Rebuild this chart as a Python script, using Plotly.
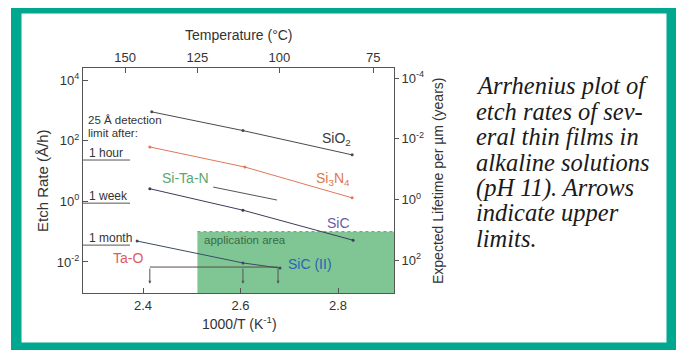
import plotly.graph_objects as go
import numpy as np

# ---------------- data ----------------
sio2_x = [2.418, 2.605, 2.829]
sio2_y = [890, 215, 34]
si3n4_x = [2.414, 2.609, 2.829]
si3n4_y = [62, 13.5, 1.3]
sitan_x = [2.544, 2.675]
sitan_y = [2.95, 1.1]
sic_x = [2.414, 2.605, 2.831]
sic_y = [2.6, 0.51, 0.052]
sic2_x = [2.388, 2.605, 2.681]
sic2_y = [0.049, 0.0093, 0.0063]
tao_x = [2.414, 2.605, 2.677]
tao_y = [0.0068, 0.0068, 0.0068]

detect_labels = ["1 hour", "1 week", "1 month"]
detect_rates = [23, 0.87, 0.036]

temp_ticks_c = [150, 125, 100, 75]
x_ticks = [2.4, 2.6, 2.8]
y_ticks = [1e-2, 1, 1e2, 1e4]
y_ticktext = ["10<sup>-2</sup>", "10<sup>0</sup>", "10<sup>2</sup>", "10<sup>4</sup>"]
life_ticks = [1e-4, 1e-2, 1, 1e2]
life_ticktext = ["10<sup>-4</sup>", "10<sup>-2</sup>", "10<sup>0</sup>", "10<sup>2</sup>"]

app_T_max = 125      # deg C
app_rate_max = 0.1   # A/h

caption_lines = ["Arrhenius plot of", "etch rates of sev-", "eral thin films in",
                 "alkaline solutions", "(pH 11). Arrows", "indicate upper", "limits."]

# ---------------- geometry helpers ----------------
OFF = 8  # page body margin
W, H = 684, 350
ML, MT = 83 - OFF, 68 - OFF
PW, PH = 311, 225
MR, MB = W - ML - PW, H - MT - PH

def X(px):      # reference pixel -> data x
    return 2.4 + (px - 143) / 487.5

def YL(py):     # reference pixel -> log10 data y
    return 4 - (py - 80) / 30.33

def PX(px):     # reference pixel -> paper x
    return (px - OFF - ML) / PW

def PY(py):     # reference pixel -> paper y
    return (MT + PH - (py - OFF)) / PH

xr = [X(83), X(394)]
yr = [YL(293), YL(68)]
c_life = np.log10(1e4 / 8760.0)
y2r = [c_life - yr[0], c_life - yr[1]]

FONT = "Liberation Sans, Arial, sans-serif"
GRAY = "#555555"

fig = go.Figure()

# application area (filled region)
x_app0 = 1000.0 / (app_T_max + 273.15)
fig.add_trace(go.Scatter(
    x=[x_app0, xr[1], xr[1], x_app0, x_app0],
    y=[10 ** yr[0], 10 ** yr[0], app_rate_max, app_rate_max, 10 ** yr[0]],
    mode="lines", fill="toself", fillcolor="rgb(128,198,148)",
    line=dict(width=0), showlegend=False, hoverinfo="skip"))
fig.add_trace(go.Scatter(
    x=[x_app0, xr[1]], y=[app_rate_max, app_rate_max], mode="lines",
    line=dict(color="rgb(105,150,118)", width=1, dash="dot"),
    showlegend=False, hoverinfo="skip"))

def line(x, y, color, width=1.0, markers=True):
    fig.add_trace(go.Scatter(
        x=x, y=y, mode="lines+markers" if markers else "lines",
        line=dict(color=color, width=width),
        marker=dict(size=3, color=color),
        showlegend=False, hoverinfo="skip"))

line(sio2_x, sio2_y, "#4a4a4a")
line(si3n4_x, si3n4_y, "#e0785a")
line(sitan_x, sitan_y, "#555555", markers=False)
line(sic_x, sic_y, "#3c3c5c")
line(sic2_x, sic2_y, "#3c4a68")
line(tao_x, tao_y, "#5a4a4a", markers=False)

# detection-limit short lines
for r in detect_rates:
    fig.add_trace(go.Scatter(x=[xr[0], X(130)], y=[r, r], mode="lines",
                             line=dict(color="#555555", width=1),
                             showlegend=False, hoverinfo="skip"))

# dummy trace on top/right axes
fig.add_trace(go.Scatter(x=[None], y=[None], xaxis="x2", yaxis="y2",
                         showlegend=False, hoverinfo="skip"))

shapes = []
# teal frame
fw = 10.5
shapes.append(dict(type="rect", xref="paper", yref="paper",
                   x0=PX(11 + fw / 2), x1=PX(677 - fw / 2),
                   y0=PY(353 - fw / 2), y1=PY(3 + fw / 2),
                   line=dict(color="#00a88f", width=fw), fillcolor="rgba(0,0,0,0)"))

ann = []
def txt(px, py, s, color="#333333", size=12, xanchor="center", angle=0, font=FONT):
    ann.append(dict(xref="paper", yref="paper", x=PX(px), y=PY(py), text=s,
                    showarrow=False, xanchor=xanchor, yanchor="middle",
                    textangle=angle, borderpad=0,
                    font=dict(family=font, size=size, color=color)))

# axis titles
txt(239, 35, "Temperature (°C)", size=14)
txt(239, 323, "1000/T (K<sup>-1</sup>)", size=14)
txt(42, 181, "Etch Rate (Å/h)", size=15, angle=-90)
txt(438, 181, "Expected Lifetime per µm (years)", size=14, angle=-90)

# series labels
txt(336, 139, "SiO<sub>2</sub>", color="#3a3a3a", size=14)
txt(333, 179, "Si<sub>3</sub>N<sub>4</sub>", color="#e07848", size=14)
txt(185, 178, "Si-Ta-N", color="#5aa870", size=14)
txt(338, 223, "SiC", color="#6a5aa8", size=14)
txt(310, 264, "SiC (II)", color="#2a64b0", size=14)
txt(128, 258, "Ta-O", color="#e05a6a", size=14)
txt(245, 240, "application area", color="#3a6a45", size=11.5)

# detection-limit texts
txt(87, 120, "25 Å detection", size=11.5, xanchor="left")
txt(87, 133, "limit after:", size=11.5, xanchor="left")
for lab, r in zip(detect_labels, detect_rates):
    py = 80 - (np.log10(r) - 4) * 30.33
    txt(88, py - 7, lab, size=12, xanchor="left")

# upper-limit arrows
for xv, yv in zip(tao_x, tao_y):
    ann.append(dict(x=xv, y=np.log10(yv) - 0.55, ax=xv, ay=np.log10(yv),
                    xref="x", yref="y", axref="x", ayref="y",
                    showarrow=True, arrowhead=2, arrowsize=0.6, arrowwidth=1,
                    arrowcolor="#555555", text=""))

# caption
for i, s in enumerate(caption_lines):
    txt(475, 86 + i * 25.4, "<i>" + s + "</i>", color="#1a1a1a", size=24.5,
        xanchor="left", font="Liberation Serif, Times New Roman, serif")

axis_common = dict(showline=True, linecolor=GRAY, linewidth=1, showgrid=False,
                   zeroline=False, ticks="inside", ticklen=5, tickcolor=GRAY,
                   tickfont=dict(family=FONT, size=13, color="#333333"))

fig.update_layout(
    width=W, height=H, margin=dict(l=ML, r=MR, t=MT, b=MB, pad=0),
    paper_bgcolor="white", plot_bgcolor="white",
    xaxis=dict(range=xr, tickvals=x_ticks, ticktext=[str(v) for v in x_ticks],
               **axis_common),
    xaxis2=dict(range=xr, overlaying="x", side="top", anchor="y",
                tickvals=[1000.0 / (t + 273.15) for t in temp_ticks_c],
                ticktext=[str(t) for t in temp_ticks_c], **axis_common),
    yaxis=dict(type="log", range=yr, tickvals=y_ticks, ticktext=y_ticktext,
               **axis_common),
    yaxis2=dict(type="log", range=y2r, overlaying="y", side="right", anchor="x",
                tickvals=life_ticks, ticktext=life_ticktext,
                **{**axis_common, "ticks": "outside", "ticklen": 4}),
    shapes=shapes, annotations=ann,
)

fig.write_html("out.html")
